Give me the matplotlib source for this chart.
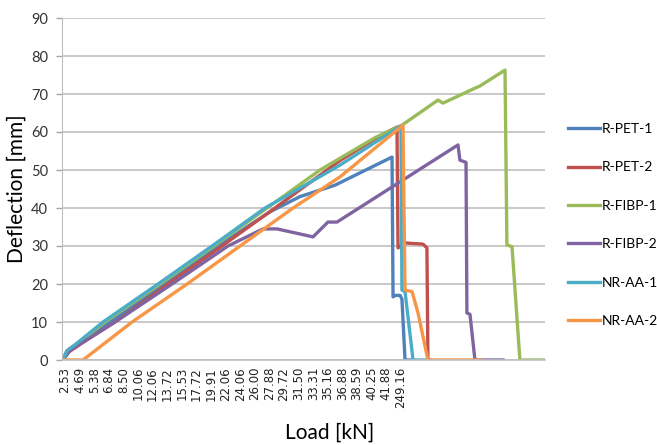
import matplotlib
matplotlib.use("Agg")
import matplotlib.pyplot as plt

# category tick labels (Load, kN) - shown every label-step on the category axis
load_labels = ["2.53", "4.69", "5.38", "6.84", "8.50", "10.06", "12.06", "13.72",
               "15.53", "17.72", "19.91", "22.06", "24.06", "26.00", "27.88", "29.72",
               "31.50", "33.31", "35.16", "36.88", "38.59", "40.25", "41.88", "249.16"]

# positions are in label-step units along the category axis
pet1_x = [-0.14, 0.07, 1.03, 3.08, 6.85, 10.48, 14.04, 16.10, 18.49, 22.40, 22.47, 22.60, 22.95, 23.08, 23.29, 23.63]
pet1_y = [0, 2, 4.5, 10, 20, 30, 39, 43, 46, 53.4, 16.6, 17, 17, 16, 0, 0]

pet2_x = [-0.14, 0.21, 1.37, 3.42, 7.05, 10.75, 14.38, 18.84, 21.58, 22.74, 22.81, 23.29, 24.52, 24.79, 24.86, 25.00]
pet2_y = [0, 2, 5, 10, 20, 30, 40, 52.5, 59, 61.3, 29.5, 30.8, 30.5, 29.5, 0, 0]

fibp1_x = [-0.14, 0.14, 0.89, 2.74, 6.51, 10.21, 13.84, 17.47, 21.23, 23.08, 25.55, 25.89, 27.95, 28.42, 30.14, 30.27, 30.62, 31.16, 32.88]
fibp1_y = [0, 2.5, 4.5, 10, 20, 30, 40, 50, 58.5, 61.8, 68.4, 67.6, 71.3, 72.1, 76.3, 30.3, 29.8, 0, 0]

fibp2_x = [-0.14, 0.34, 3.42, 7.33, 11.16, 13.56, 14.52, 16.99, 18.01, 18.63, 26.92, 27.05, 27.47, 27.53, 27.74, 28.08, 30.00]
fibp2_y = [0, 2.5, 10, 20, 30, 34.5, 34.5, 32.4, 36.3, 36.3, 56.6, 52.6, 52, 12.4, 12, 0, 0]

aa1_x = [-0.14, 0.14, 0.68, 2.60, 6.37, 10.07, 13.70, 18.84, 22.95, 23.01, 23.08, 23.29, 23.84, 24.66]
aa1_y = [0, 2.5, 4, 10, 20, 30, 40, 51.3, 61.5, 61.5, 18.4, 18, 0, 0]

aa2_x = [-0.21, 1.23, 4.59, 8.36, 11.99, 15.62, 18.84, 23.15, 23.29, 23.77, 24.18, 24.86, 28.42]
aa2_y = [0, 0, 10, 20, 30, 40, 48.2, 61.8, 18.4, 18, 12.4, 0, 0]

series = [
    ("R-PET-1", pet1_x, pet1_y, "#4F81BD"),
    ("R-PET-2", pet2_x, pet2_y, "#C0504D"),
    ("R-FIBP-1", fibp1_x, fibp1_y, "#9BBB59"),
    ("R-FIBP-2", fibp2_x, fibp2_y, "#8064A2"),
    ("NR-AA-1", aa1_x, aa1_y, "#4BACC6"),
    ("NR-AA-2", aa2_x, aa2_y, "#F79646"),
]

plt.rcParams['font.family'] = ['Lato', 'DejaVu Sans']

fig = plt.figure(figsize=(6.57, 4.45), dpi=100)
ax = fig.add_axes([62/657, 1-360/445, (545-62)/657, (360-18)/445])

for name, xs, ys, col in series:
    ax.plot(xs, ys, color=col, lw=2.4, label=name, solid_joinstyle='round')

ax.set_xlim(-0.21, 32.88)
ax.set_ylim(0, 90)
ax.set_yticks(range(0, 91, 10))
ax.set_xticks(range(len(load_labels)))
ax.set_xticklabels(load_labels, rotation=90, fontsize=8.5, color="#222222", family="DejaVu Sans")
ax.tick_params(axis='x', length=0, pad=5)
ax.tick_params(axis='y', length=4, width=1, color="#a6a6a6", pad=6, labelsize=10.5, labelcolor="#333333")
ax.yaxis.grid(True, color="#bfbfbf", lw=1.2)
ax.set_axisbelow(True)
for s in ["top", "right"]:
    ax.spines[s].set_visible(False)
ax.spines["left"].set_color("#bfbfbf")
ax.spines["bottom"].set_color("#bfbfbf")
ax.spines["bottom"].set_linewidth(1.2)

ax.set_ylabel("Deflection [mm]", fontsize=15, labelpad=3)
fig.text(330/657, 1-433/445, "Load [kN]", fontsize=15, ha="center", va="center")

ax.legend(loc="center left", bbox_to_anchor=(568/657, 1-225/445), bbox_transform=fig.transFigure,
          frameon=False, fontsize=10, handlelength=2.3, handletextpad=0.15,
          labelspacing=1.9, borderpad=0, borderaxespad=0)

fig.savefig("out.png", dpi=100)
